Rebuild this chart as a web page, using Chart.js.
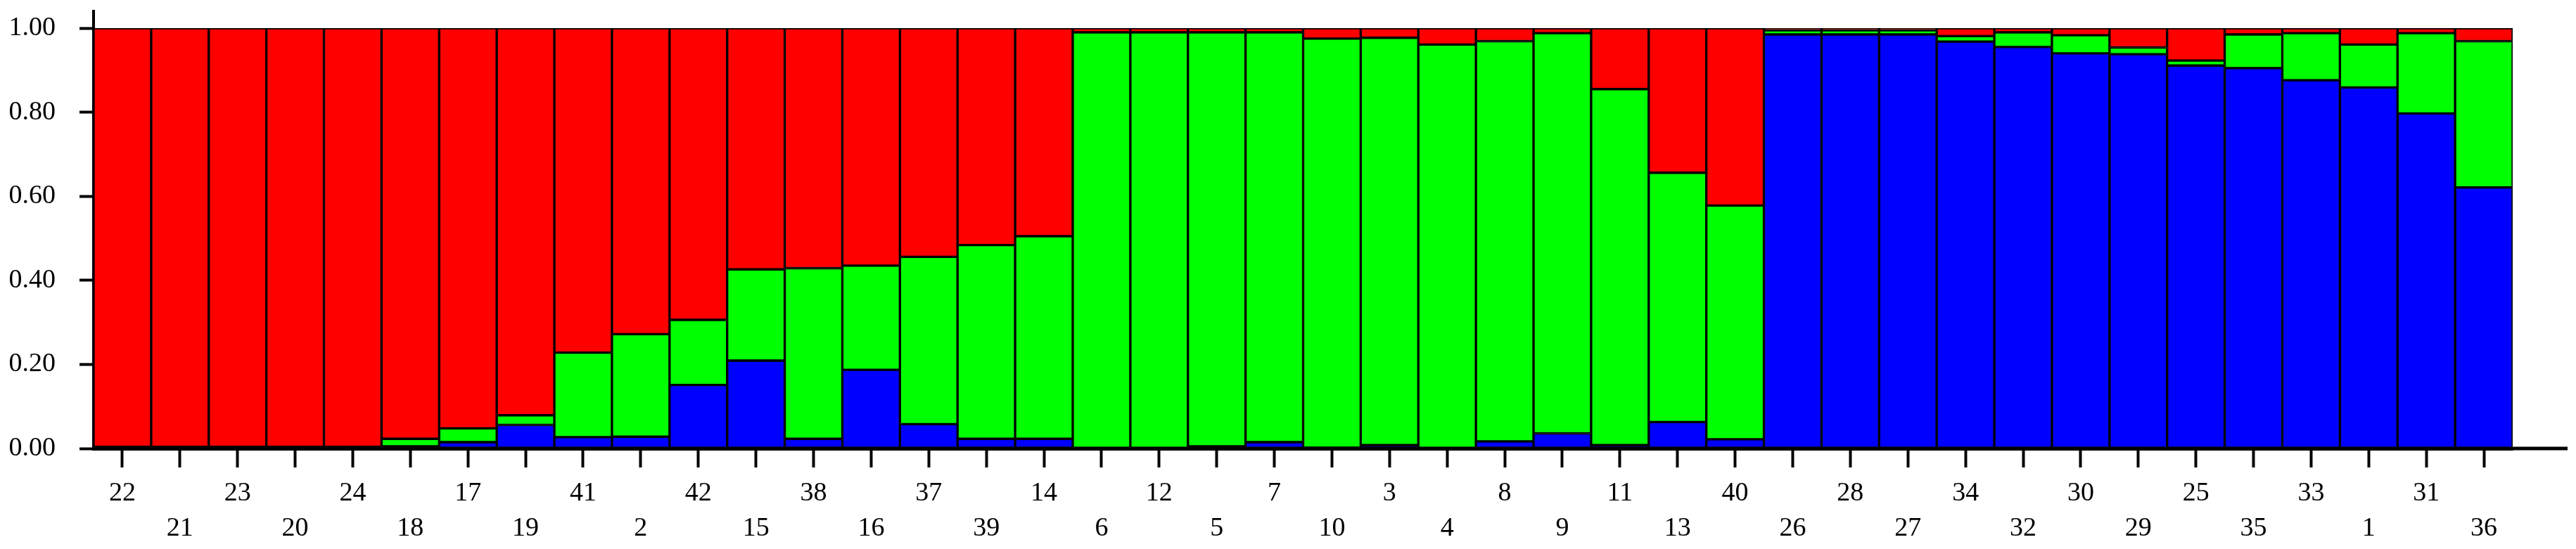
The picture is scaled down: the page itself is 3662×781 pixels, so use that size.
<!DOCTYPE html>
<html>
<head>
<meta charset="utf-8">
<script src="https://cdn.jsdelivr.net/npm/chart.js@4/dist/chart.umd.min.js"></script>
<style>
    html, body { margin: 0; padding: 0; background: #fff; }
    #wrap { width: 3662px; height: 781px; }
</style>
</head>
<body>
<div id="wrap"><canvas id="structure-chart"></canvas></div>
<script>
// --- DATA (sample order as plotted, membership per cluster) ---
const samples = ['22','21','23','20','24','18','17','19','41','2','42','15','38','16','37','39','14','6','12','5','7','10','3','4','8','9','11','13','40','26','28','27','34','32','30','29','25','35','33','1','31','36'];

const blueK = [0.004,0.004,0.004,0.004,0.004,0.005,0.015,0.056,0.027,0.028,0.151,0.209,0.023,0.187,0.058,0.023,0.023,0,0,0.005,0.015,0.002,0.008,0,0.017,0.036,0.008,0.063,0.022,0.985,0.985,0.985,0.968,0.955,0.940,0.938,0.911,0.905,0.876,0.859,0.797,0.621];
const greenK = [0,0,0,0,0,0.018,0.033,0.023,0.201,0.244,0.155,0.217,0.406,0.248,0.398,0.461,0.482,0.99,0.99,0.985,0.975,0.973,0.969,0.961,0.952,0.952,0.847,0.593,0.556,0.01,0.01,0.01,0.013,0.035,0.043,0.016,0.012,0.08,0.112,0.102,0.191,0.348];
const redK = [0.996,0.996,0.996,0.996,0.996,0.977,0.952,0.921,0.772,0.728,0.694,0.574,0.571,0.565,0.544,0.516,0.495,0.01,0.01,0.01,0.01,0.025,0.023,0.039,0.031,0.012,0.145,0.344,0.422,0.005,0.005,0.005,0.019,0.01,0.017,0.046,0.077,0.015,0.012,0.039,0.012,0.031];

const yTicks = [0, 0.2, 0.4, 0.6, 0.8, 1.0];

// --- CHART ---
const serif = { family: '"Liberation Serif", "DejaVu Serif", serif', size: 38 };

const segment = (data, color) => ({
    data,
    backgroundColor: color,
    borderColor: '#000',
    borderWidth: 2,
    borderSkipped: false,
    categoryPercentage: 1,
    barPercentage: 1
});

// axis lines run on a bit: x past the last bar, y above 1.00
const axisRunOut = {
    id: 'axisRunOut',
    afterDraw(chart) {
        const { ctx, chartArea } = chart;
        ctx.save();
        ctx.strokeStyle = '#000';
        ctx.lineWidth = 5;
        ctx.beginPath();
        ctx.moveTo(chartArea.left, chartArea.bottom);
        ctx.lineTo(chart.width - 12, chartArea.bottom);
        ctx.stroke();
        ctx.lineWidth = 4;
        ctx.beginPath();
        ctx.moveTo(chartArea.left, chartArea.top);
        ctx.lineTo(chartArea.left, chartArea.top - 26);
        ctx.stroke();
        ctx.restore();
    }
};

new Chart(document.getElementById('structure-chart'), {
    type: 'bar',
    data: {
        labels: samples,
        datasets: [
            segment(blueK, '#0000FF'),
            segment(greenK, '#00FF00'),
            segment(redK, '#FF0000')
        ]
    },
    options: {
        responsive: true,
        maintainAspectRatio: false,
        animation: false,
        layout: { padding: { top: 40, right: 90, left: 0, bottom: 0 } },
        plugins: { legend: { display: false }, tooltip: { enabled: false } },
        scales: {
            x: {
                stacked: true,
                grid: { offset: false, drawOnChartArea: false, drawTicks: true, tickLength: 27, tickColor: '#000', tickWidth: 4 },
                border: { display: true, color: '#000', width: 5 },
                ticks: {
                    autoSkip: false,
                    maxRotation: 0,
                    padding: 12,
                    color: '#000',
                    font: { ...serif, lineHeight: 1.32 },
                    callback: (v, i) => i % 2 === 0 ? samples[i] : ['', samples[i]]
                },
                afterFit: s => { s.height = 143; s.paddingLeft = 0; s.paddingRight = 0; }
            },
            y: {
                stacked: true,
                min: 0,
                max: 1,
                afterBuildTicks: s => { s.ticks = yTicks.map(v => ({ value: v })); },
                grid: { drawOnChartArea: false, drawTicks: true, tickLength: 20, tickColor: '#000', tickWidth: 4 },
                border: { display: true, color: '#000', width: 4 },
                ticks: {
                    padding: 34,
                    color: '#000',
                    font: serif,
                    callback: v => v.toFixed(2)
                },
                afterFit: s => { s.width = 133; s.paddingTop = 0; s.paddingBottom = 0; }
            }
        }
    },
    plugins: [axisRunOut]
});
</script>
</body>
</html>
